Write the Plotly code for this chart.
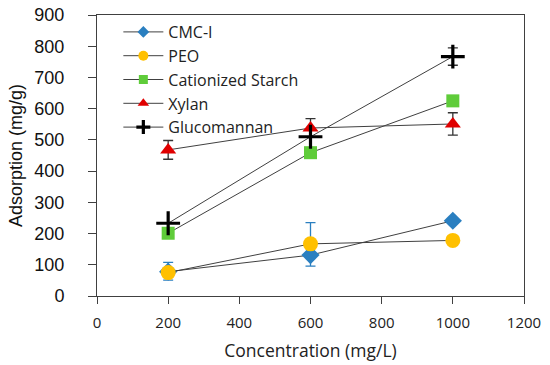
import plotly.graph_objects as go

conc = [200, 600, 1000]
cmc = [78, 131, 241]
cmc_err_plus = [30, 104, 0]
cmc_err_minus = [27, 35, 0]
peo = [75, 167, 178]
starch = [201, 459, 625]
xylan = [468, 538, 551]
xylan_err = [30, 30, 36]
gluco = [233, 510, 767]
gluco_err = [0, 0, 28]

names = ["CMC-I", "PEO", "Cationized Starch", "Xylan", "Glucomannan"]
colors = ["#2A7FC0", "#FFC000", "#5FCC3A", "#E00000", "black"]
symbols = ["diamond", "circle", "square", "triangle-up", "cross-thin"]
sizes = [14, 15, 13, 14, 17]
legend_sizes = [9, 10, 9, 10, 10]
values = [cmc, peo, starch, xylan, gluco]
errors = [
    dict(type="data", symmetric=False, array=cmc_err_plus, arrayminus=cmc_err_minus,
         color="#2A7FC0", thickness=1.3, width=5),
    None, None,
    dict(type="data", array=xylan_err, color="#333333", thickness=1.3, width=5),
    dict(type="data", array=gluco_err, color="#333333", thickness=1.3, width=5),
]

line = dict(color="#404040", width=1)


def mk(sym, size, color):
    if sym == "cross-thin":
        return dict(symbol=sym, size=size, line=dict(color=color, width=3.2))
    return dict(symbol=sym, size=size, color=color)


fig = go.Figure()
for n, c, s, sz, v, e in zip(names, colors, symbols, sizes, values, errors):
    kw = dict(error_y=e) if e else {}
    fig.add_trace(go.Scatter(x=conc, y=v, name=n, mode="lines+markers", line=line,
                             marker=mk(s, sz, c), showlegend=False, **kw))
for n, c, s, sz in zip(names, colors, symbols, legend_sizes):
    fig.add_trace(go.Scatter(x=[None], y=[None], name=n, mode="lines+markers", line=line,
                             marker=mk(s, sz, c), showlegend=True))

fig.update_layout(
    width=550, height=365, paper_bgcolor="white", plot_bgcolor="white",
    margin=dict(l=97, r=26, t=15, b=69),
    legend=dict(x=0.05, y=1.0, xanchor="left", yanchor="top", bgcolor="rgba(0,0,0,0)",
                font=dict(family="Open Sans", size=16, color="#222"), tracegroupgap=0,
                itemwidth=40),
    showlegend=True,
)
fig.update_xaxes(range=[0, 1200], dtick=200, showline=True, linecolor="#404040", mirror=True,
                 ticks="outside", ticklen=7, tickcolor="#404040", showgrid=False, zeroline=False,
                 automargin=False, ticklabelstandoff=6,
                 tickfont=dict(family="Open Sans", size=15, color="#222"),
                 title=dict(text="Concentration (mg/L)", font=dict(family="Open Sans", size=17.5, color="#222"), standoff=13))
fig.update_yaxes(range=[0, 900], dtick=100, showline=True, linecolor="#404040", mirror=True,
                 ticks="outside", ticklen=8, tickcolor="#404040", showgrid=False, zeroline=False,
                 automargin=False, ticklabelstandoff=20,
                 tickfont=dict(family="Liberation Sans", size=18, color="#111"),
                 title=dict(text="Adsorption (mg/g)", font=dict(family="Liberation Sans", size=18, color="#111"), standoff=7))
fig.write_html("out.html", config={"displayModeBar": False},
               post_script="document.body.style.margin='0';")
